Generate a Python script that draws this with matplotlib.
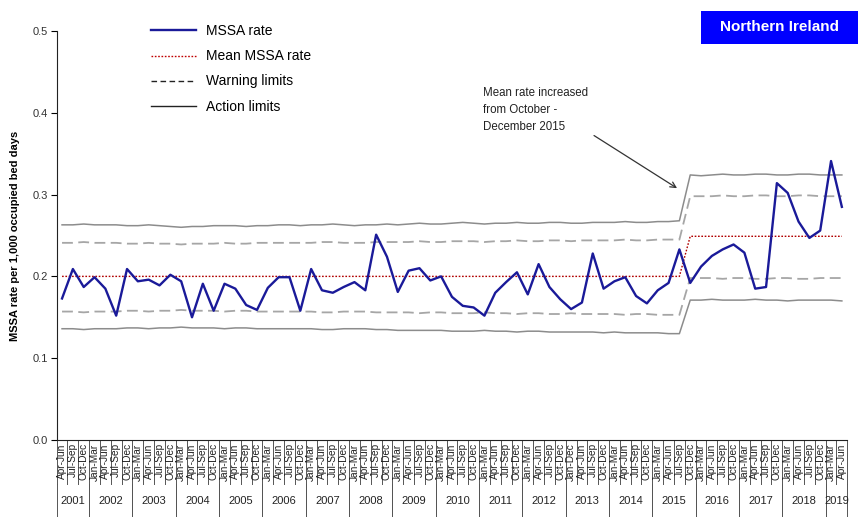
import numpy as np
import matplotlib
matplotlib.use("Agg")
import matplotlib.pyplot as plt
from matplotlib.lines import Line2D
from matplotlib.patches import Rectangle
import matplotlib.transforms as mtransforms

plt.rcParams['font.family'] = ['Liberation Sans', 'DejaVu Sans']

# quarterly MSSA rate, Apr-Jun 2001 .. Apr-Jun 2019
rate = [0.173, 0.209, 0.187,
        0.199, 0.185, 0.152, 0.209,
        0.194, 0.196, 0.189, 0.202,
        0.194, 0.150, 0.191, 0.158,
        0.191, 0.185, 0.165, 0.159,
        0.186, 0.199, 0.199, 0.158,
        0.209, 0.183, 0.180, 0.187,
        0.193, 0.183, 0.251, 0.224,
        0.181, 0.207, 0.210, 0.195,
        0.200, 0.175, 0.164, 0.162,
        0.152, 0.180, 0.193, 0.205,
        0.178, 0.215, 0.187, 0.172,
        0.160, 0.168, 0.228, 0.185,
        0.194, 0.199, 0.176, 0.167,
        0.183, 0.192, 0.233, 0.192,
        0.212, 0.225, 0.233, 0.239,
        0.229, 0.185, 0.187, 0.314,
        0.302, 0.267, 0.247, 0.256,
        0.341, 0.285]

mean_rate = [0.200] * 58 + [0.249] * 15

upper_action = [0.263, 0.263, 0.264, 0.263, 0.263, 0.263, 0.262, 0.262, 0.263, 0.262,
                0.261, 0.260, 0.261, 0.261, 0.262, 0.262, 0.262, 0.261, 0.262, 0.262,
                0.263, 0.263, 0.262, 0.263, 0.263, 0.264, 0.263, 0.262, 0.263, 0.263,
                0.264, 0.263, 0.264, 0.265, 0.264, 0.264, 0.265, 0.266, 0.265, 0.264,
                0.265, 0.265, 0.266, 0.265, 0.265, 0.266, 0.266, 0.265, 0.265, 0.266,
                0.266, 0.266, 0.267, 0.266, 0.266, 0.267, 0.267, 0.268,
                0.324, 0.323, 0.324, 0.325, 0.324, 0.324, 0.325, 0.325, 0.324, 0.324,
                0.325, 0.325, 0.324, 0.324, 0.324]
upper_warning = [0.241, 0.241, 0.242, 0.241, 0.241, 0.241, 0.240, 0.240, 0.241, 0.240,
                 0.240, 0.239, 0.240, 0.240, 0.240, 0.241, 0.240, 0.240, 0.241, 0.241,
                 0.241, 0.241, 0.241, 0.241, 0.242, 0.242, 0.241, 0.241, 0.241, 0.242,
                 0.242, 0.242, 0.242, 0.243, 0.242, 0.242, 0.243, 0.243, 0.243, 0.242,
                 0.243, 0.243, 0.244, 0.243, 0.243, 0.244, 0.244, 0.243, 0.244, 0.244,
                 0.244, 0.244, 0.245, 0.244, 0.244, 0.245, 0.245, 0.245,
                 0.298, 0.298, 0.298, 0.299, 0.298, 0.298, 0.299, 0.299, 0.298, 0.298,
                 0.299, 0.299, 0.298, 0.298, 0.298]
lower_warning = [0.157, 0.157, 0.156, 0.157, 0.157, 0.157, 0.158, 0.158, 0.157, 0.158,
                 0.158, 0.159, 0.158, 0.158, 0.158, 0.157, 0.158, 0.158, 0.157, 0.157,
                 0.157, 0.157, 0.157, 0.157, 0.156, 0.156, 0.157, 0.157, 0.157, 0.156,
                 0.156, 0.156, 0.156, 0.155, 0.156, 0.156, 0.155, 0.155, 0.155, 0.156,
                 0.155, 0.155, 0.154, 0.155, 0.155, 0.154, 0.154, 0.155, 0.154, 0.154,
                 0.154, 0.154, 0.153, 0.154, 0.154, 0.153, 0.153, 0.153,
                 0.198, 0.198, 0.198, 0.197, 0.198, 0.198, 0.197, 0.197, 0.198, 0.198,
                 0.197, 0.197, 0.198, 0.198, 0.198]
lower_action = [0.136, 0.136, 0.135, 0.136, 0.136, 0.136, 0.137, 0.137, 0.136, 0.137,
                0.137, 0.138, 0.137, 0.137, 0.137, 0.136, 0.137, 0.137, 0.136, 0.136,
                0.136, 0.136, 0.136, 0.136, 0.135, 0.135, 0.136, 0.136, 0.136, 0.135,
                0.135, 0.134, 0.134, 0.134, 0.134, 0.134, 0.133, 0.133, 0.133, 0.134,
                0.133, 0.133, 0.132, 0.133, 0.133, 0.132, 0.132, 0.132, 0.132, 0.132,
                0.131, 0.132, 0.131, 0.131, 0.131, 0.131, 0.130, 0.130,
                0.171, 0.171, 0.172, 0.171, 0.171, 0.171, 0.172, 0.171, 0.171, 0.170,
                0.171, 0.171, 0.171, 0.171, 0.170]

years = list(range(2001, 2020))
quarter_names = ['Jan-Mar', 'Apr-Jun', 'Jul-Sep', 'Oct-Dec']

# category labels (year, quarter) from Apr-Jun 2001 to Apr-Jun 2019
cats = []
for yr in years:
    for qi, q in enumerate(quarter_names):
        if (yr == 2001 and qi == 0) or (yr == 2019 and qi > 1):
            continue
        cats.append((yr, q))
qlabels = [q for yr, q in cats]
qlabels[cats.index((2013, 'Jan-Mar'))] = 'Jan-Dec'   # as printed on the original

x = np.arange(len(cats))

fig = plt.figure(figsize=(8.58, 5.18), dpi=100)
ax = fig.add_axes([0.066, 0.1506, 0.9215, 0.7896])

ax.plot(x, upper_action, color='#8c8c8c', lw=1.1)
ax.plot(x, lower_action, color='#8c8c8c', lw=1.1)
ax.plot(x, upper_warning, color='#a6a6a6', lw=1.3, dashes=(6, 3))
ax.plot(x, lower_warning, color='#a6a6a6', lw=1.3, dashes=(6, 3))
ax.plot(x, mean_rate, color='#b00000', lw=1.0, dashes=(1.2, 1.2))
ax.plot(x, rate, color='#1a1a99', lw=1.7)

ax.set_xlim(-0.5, len(cats) - 0.5)
ax.set_ylim(0, 0.5)
ax.set_yticks(np.arange(0, 0.51, 0.1))
ax.set_yticklabels(['%.1f' % v for v in np.arange(0, 0.51, 0.1)], fontsize=8, color='#333333')
ax.tick_params(axis='y', length=4, width=0.8, direction='out', pad=2)
ax.set_xticks([])
for s in ['top', 'right']:
    ax.spines[s].set_visible(False)
ax.spines['left'].set_color('#222222')
ax.spines['bottom'].set_color('#222222')

# multi-level category axis
trans = mtransforms.blended_transform_factory(ax.transData, ax.transAxes)
for i, lab in enumerate(qlabels):
    ax.text(i, -0.008, lab, rotation=90, ha='center', va='top', fontsize=7.3,
            color='#222222', transform=trans)
for i in range(len(cats) + 1):
    ax.plot([i - 0.5, i - 0.5], [0, -0.108], color='#555555', lw=0.7,
            transform=trans, clip_on=False)
yr_of = [yr for yr, q in cats]
for yr in years:
    idx = [i for i, y in enumerate(yr_of) if y == yr]
    lo, hi = idx[0] - 0.5, idx[-1] + 0.5
    ax.text((lo + hi) / 2, -0.149, str(yr), ha='center', va='center', fontsize=8,
            color='#222222', transform=trans)
    for b in (lo, hi):
        ax.plot([b, b], [-0.108, -0.186], color='#555555', lw=0.7,
                transform=trans, clip_on=False)

fig.text(0.018, 0.545, 'MSSA rate per 1,000 occupied bed days', rotation=90,
         ha='center', va='center', fontsize=8, fontweight='bold')

# legend
handles = [Line2D([], [], color='#1a1a99', lw=1.7),
           Line2D([], [], color='#c00000', lw=1.0, dashes=(1.2, 1.2)),
           Line2D([], [], color='#222222', lw=1.0, dashes=(4, 2.5)),
           Line2D([], [], color='#222222', lw=1.0)]
labels = ['MSSA rate', 'Mean MSSA rate', 'Warning limits', 'Action limits']
ax.legend(handles, labels, loc='upper left', bbox_to_anchor=(0.104, 1.047),
          frameon=False, fontsize=10, handlelength=3.2, handletextpad=0.7,
          labelspacing=0.8)

# annotation for the change in mean
ax.annotate('', xy=(57.0, 0.306), xytext=(48.9, 0.374),
            arrowprops=dict(arrowstyle='->', color='#333333', lw=0.9))
ax.text(38.9, 0.432, 'Mean rate increased\nfrom October -\nDecember 2015',
        ha='left', va='top', fontsize=8.3, color='#222222', linespacing=1.55)

# title box
fig.add_artist(Rectangle((0.817, 0.915), 0.19, 0.064, transform=fig.transFigure,
                         facecolor='#0000ff', edgecolor='none'))
fig.text(0.908, 0.947, 'Northern Ireland', ha='center', va='center', fontsize=11,
         fontweight='bold', color='white')

fig.savefig('out.png', dpi=100)
